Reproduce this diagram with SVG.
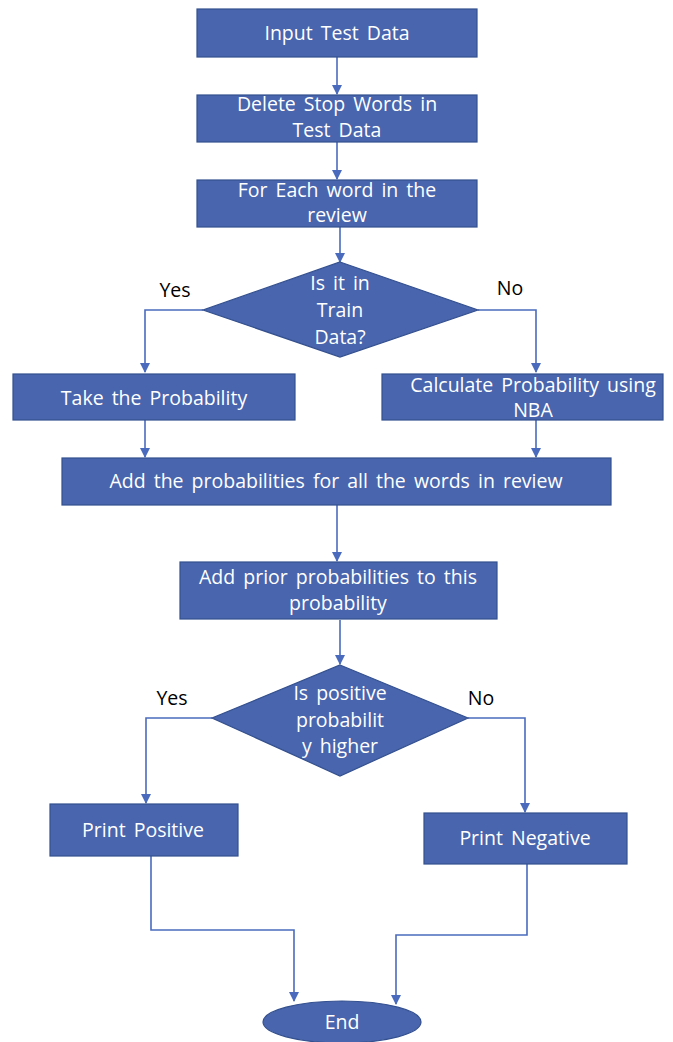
<svg xmlns="http://www.w3.org/2000/svg" width="673" height="1042" viewBox="0 0 673 1042">
<style>
.n{fill:#4865ad;stroke:#34508f;stroke-width:1.2}
.t{font-family:"Open Sans","Liberation Sans",sans-serif;font-size:19.5px;fill:#ffffff;text-anchor:middle;word-spacing:3px}
.l{font-family:"Open Sans","Liberation Sans",sans-serif;font-size:19.5px;fill:#000000;text-anchor:middle}
.c{fill:none;stroke:#4a6bbd;stroke-width:1.6}
</style>
<defs>
<marker id="ah" markerWidth="10" markerHeight="10" refX="9" refY="5" orient="auto" markerUnits="userSpaceOnUse">
<path d="M0,0 L10,5 L0,10 Z" fill="#4a6bbd"/>
</marker>
</defs>
<rect width="673" height="1042" fill="#ffffff"/>
<g id="connectors">
<path class="c" d="M337,57 V94" marker-end="url(#ah)"/>
<path class="c" d="M337,142 V179" marker-end="url(#ah)"/>
<path class="c" d="M340,227 V262" marker-end="url(#ah)"/>
<path class="c" d="M203,310 H145 V372" marker-end="url(#ah)"/>
<path class="c" d="M478,310 H536 V372" marker-end="url(#ah)"/>
<path class="c" d="M145,420 V457" marker-end="url(#ah)"/>
<path class="c" d="M536,420 V457" marker-end="url(#ah)"/>
<path class="c" d="M337,505 V561" marker-end="url(#ah)"/>
<path class="c" d="M340,620 V664" marker-end="url(#ah)"/>
<path class="c" d="M212,718 H146 V803" marker-end="url(#ah)"/>
<path class="c" d="M468,718 H525 V812" marker-end="url(#ah)"/>
<path class="c" d="M151,856 V930 H294 V1001" marker-end="url(#ah)"/>
<path class="c" d="M527,864 V935 H396 V1004" marker-end="url(#ah)"/>
</g>
<g id="n1"><rect class="n" x="197" y="9" width="280" height="48"/><text class="t" x="337" y="40">Input Test Data</text></g>
<g id="n2"><rect class="n" x="197" y="95" width="280" height="47"/><text class="t" x="337" y="111">Delete Stop Words in</text><text class="t" x="337" y="137">Test Data</text></g>
<g id="n3"><rect class="n" x="197" y="180" width="280" height="47"/><text class="t" x="337" y="197">For Each word in the</text><text class="t" x="337" y="222">review</text></g>
<g id="d1"><polygon class="n" points="340,262 478,310 340,357 203,310"/><text class="t" x="340" y="290">Is it in</text><text class="t" x="340" y="317">Train</text><text class="t" x="340" y="344">Data?</text></g>
<g id="lbl1"><text class="l" x="175" y="297">Yes</text><text class="l" x="510" y="295">No</text></g>
<g id="n4"><rect class="n" x="13" y="374" width="282" height="46"/><text class="t" x="154" y="405">Take the Probability</text></g>
<g id="n5"><rect class="n" x="382" y="374" width="281" height="46"/><text class="t" x="533" y="392">Calculate Probability using</text><text class="t" x="533" y="417">NBA</text></g>
<g id="n6"><rect class="n" x="62" y="458" width="549" height="47"/><text class="t" x="336" y="488">Add the probabilities for all the words in review</text></g>
<g id="n7"><rect class="n" x="180" y="562" width="317" height="57"/><text class="t" x="338" y="584">Add prior probabilities to this</text><text class="t" x="338" y="610">probability</text></g>
<g id="d2"><polygon class="n" points="340,665 468,718 340,776 212,718"/><text class="t" x="340" y="700">Is positive</text><text class="t" x="340" y="727">probabilit</text><text class="t" x="340" y="753">y higher</text></g>
<g id="lbl2"><text class="l" x="172" y="705">Yes</text><text class="l" x="481" y="705">No</text></g>
<g id="n8"><rect class="n" x="50" y="804" width="188" height="52"/><text class="t" x="143" y="837">Print Positive</text></g>
<g id="n9"><rect class="n" x="424" y="813" width="203" height="51"/><text class="t" x="525" y="845">Print Negative</text></g>
<g id="n10"><ellipse class="n" cx="342" cy="1022" rx="79" ry="21"/><text class="t" x="342" y="1029">End</text></g>
</svg>
